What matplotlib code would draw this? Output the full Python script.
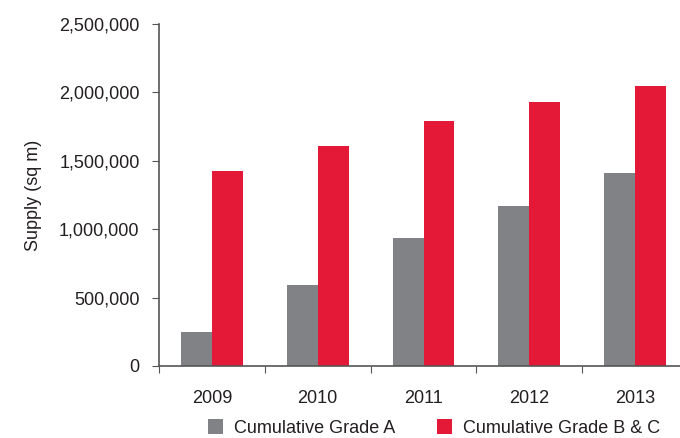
import numpy as np
import matplotlib.pyplot as plt
from matplotlib.ticker import FuncFormatter

years = ['2009', '2010', '2011', '2012', '2013']
grade_a = [249000, 593000, 936000, 1170000, 1412000]
grade_bc = [1427000, 1610000, 1792000, 1931000, 2048000]

grey = '#808285'
red = '#E31937'

plt.rcParams['font.family'] = ['Liberation Sans', 'DejaVu Sans']

fig = plt.figure(figsize=(6.8, 4.38), dpi=100)
ax = fig.add_axes([159 / 680, 72 / 438, 529 / 680, 342 / 438])

x = np.arange(len(years))
w = 0.293
ax.bar(x - w / 2, grade_a, w, color=grey, label='Cumulative Grade A')
ax.bar(x + w / 2, grade_bc, w, color=red, label='Cumulative Grade B & C')

ax.set_xlim(-0.5, len(years) - 0.5)
ax.set_ylim(0, 2500000)
ax.set_yticks(np.arange(0, 2500001, 500000))
ax.yaxis.set_major_formatter(FuncFormatter(lambda v, p: f'{int(v):,}'))

ax.set_xticks(np.arange(-0.5, len(years), 1))
ax.set_xticklabels([])
ax.set_xticks(x, minor=True)
ax.set_xticklabels(years, minor=True)
ax.tick_params(axis='x', which='minor', length=0, pad=17, labelsize=13, colors='#231f20')
ax.tick_params(axis='x', which='major', length=5, direction='out', color='#555555')
ax.tick_params(axis='y', length=5, direction='out', color='#555555', labelsize=13,
               labelcolor='#231f20', pad=9)

for s in ['top', 'right']:
    ax.spines[s].set_visible(False)
for s in ['left', 'bottom']:
    ax.spines[s].set_color('#555555')
    ax.spines[s].set_linewidth(1.2)

ax.set_ylabel('Supply (sq m)', fontsize=13, color='#231f20', labelpad=12)

fig.legend(loc='center left', bbox_to_anchor=(199 / 680, 10 / 438), ncol=2, frameon=False,
           fontsize=13, handlelength=0.85, handleheight=0.85, columnspacing=2.3,
           handletextpad=0.6, borderpad=0, labelcolor='#231f20')

fig.savefig('out.png', dpi=100)
